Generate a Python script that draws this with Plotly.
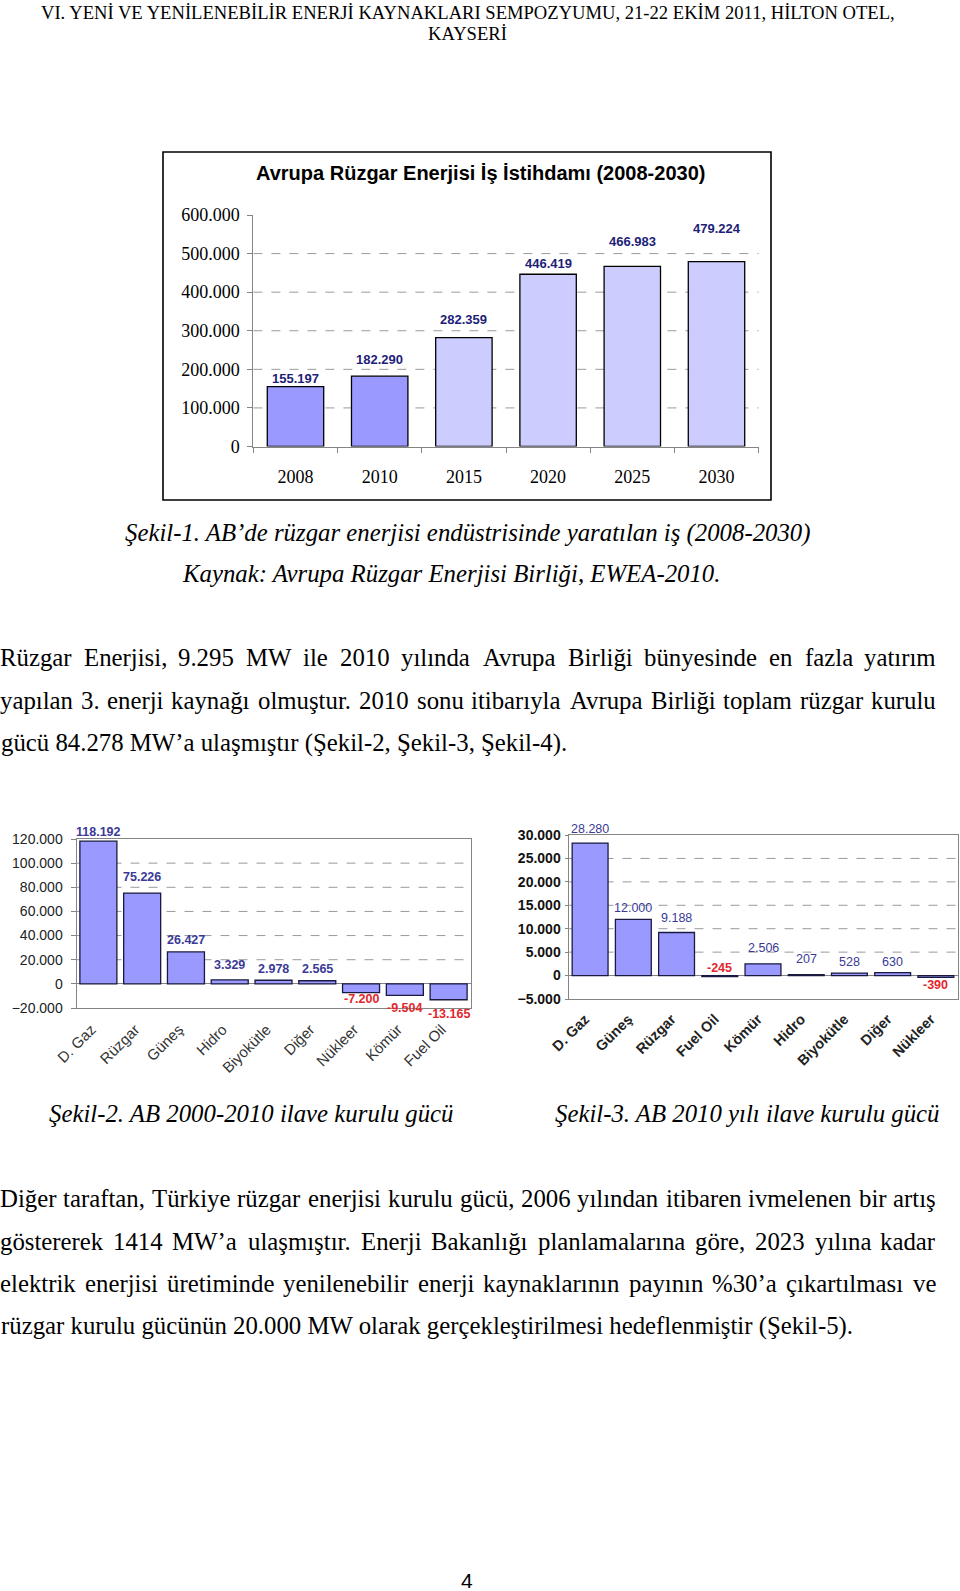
import plotly.graph_objects as go

# ------------------------------------------------------------------ data
years = ["2008", "2010", "2015", "2020", "2025", "2030"]
jobs = [155197, 182290, 282359, 446419, 466983, 479224]
ch1_yticks = [0, 100000, 200000, 300000, 400000, 500000, 600000]

sources2 = ["D. Gaz", "Rüzgar", "Güneş", "Hidro", "Biyokütle", "Diğer", "Nükleer", "Kömür", "Fuel Oil"]
capacity2 = [118192, 75226, 26427, 3329, 2978, 2565, -7200, -9504, -13165]
ch2_yticks = [-20000, 0, 20000, 40000, 60000, 80000, 100000, 120000]

sources3 = ["D. Gaz", "Güneş", "Rüzgar", "Fuel Oil", "Kömür", "Hidro", "Biyokütle", "Diğer", "Nükleer"]
capacity3 = [28280, 12000, 9188, -245, 2506, 207, 528, 630, -390]
ch3_yticks = [-5000, 0, 5000, 10000, 15000, 20000, 25000, 30000]

header_lines = ["VI. YENİ VE YENİLENEBİLİR ENERJİ KAYNAKLARI SEMPOZYUMU, 21-22 EKİM 2011, HİLTON OTEL,",
                "KAYSERİ"]
chart1_title = "Avrupa Rüzgar Enerjisi İş İstihdamı (2008-2030)"
caption1 = ["Şekil-1. AB’de rüzgar enerjisi endüstrisinde yaratılan iş (2008-2030)",
            "Kaynak: Avrupa Rüzgar Enerjisi Birliği, EWEA-2010."]
para1 = ["Rüzgar Enerjisi, 9.295 MW ile 2010 yılında Avrupa Birliği bünyesinde en fazla yatırım",
         "yapılan 3. enerji kaynağı olmuştur. 2010 sonu itibarıyla Avrupa Birliği toplam rüzgar kurulu",
         "gücü 84.278 MW’a ulaşmıştır (Şekil-2, Şekil-3, Şekil-4)."]
caption2 = "Şekil-2. AB 2000-2010 ilave kurulu gücü"
caption3 = "Şekil-3. AB 2010 yılı ilave kurulu gücü"
para2 = ["Diğer taraftan, Türkiye rüzgar enerjisi kurulu gücü, 2006 yılından itibaren ivmelenen bir artış",
         "göstererek 1414 MW’a ulaşmıştır. Enerji Bakanlığı planlamalarına göre, 2023 yılına kadar",
         "elektrik enerjisi üretiminde yenilenebilir enerji kaynaklarının payının %30’a çıkartılması ve",
         "rüzgar kurulu gücünün 20.000 MW olarak gerçekleştirilmesi hedeflenmiştir (Şekil-5)."]
page_no = "4"

# ------------------------------------------------------------------ styles
W, H = 960, 1591
SERIF = "Liberation Serif"
SANS = "Liberation Sans"
ch1_colors = ["#9999FF", "#9999FF", "#CCCCFF", "#CCCCFF", "#CCCCFF", "#CCCCFF"]
ch1_label_shift = [8, 17, 18, 11, 25, 33]
ch2_label_shift = [9, 16, 12, 15, 11, 12, -6, -13, -14]
ch3_label_shift = [14, 11, 15, 9, 16, 16, 11, 11, -8]
NAVY1 = "#1E1E78"
NAVY2 = "#3A3A96"
RED = "#E3262B"
GRID = "#9A9A9A"
AXIS = "#858585"


def fmt(v):
    return f"{v:,}".replace(",", ".")


def px(x):
    return x / W


def py(y):
    return 1 - y / H


# Times-Roman glyph widths (per 1000 em) for text justification
TW = {' ': 250, '.': 250, ',': 250, ':': 278, '’': 333, "'": 180, '(': 333, ')': 333, '-': 333, '%': 833,
      'a': 444, 'b': 500, 'c': 444, 'd': 500, 'e': 444, 'f': 333, 'g': 500, 'h': 500, 'i': 278, 'j': 278,
      'k': 500, 'l': 278, 'm': 778, 'n': 500, 'o': 500, 'p': 500, 'q': 500, 'r': 333, 's': 389, 't': 278,
      'u': 500, 'v': 500, 'w': 722, 'x': 500, 'y': 500, 'z': 444,
      'ü': 500, 'ç': 444, 'ğ': 500, 'ı': 278, 'ş': 389, 'ö': 500,
      'A': 722, 'B': 667, 'C': 667, 'D': 722, 'E': 611, 'F': 556, 'G': 722, 'H': 722, 'I': 333, 'J': 389,
      'K': 722, 'L': 611, 'M': 889, 'N': 722, 'O': 722, 'P': 556, 'R': 667, 'S': 556, 'T': 611, 'U': 722,
      'V': 722, 'W': 944, 'Y': 722, 'Z': 611, 'Ş': 556, 'İ': 333, 'Ü': 722}
for d in "0123456789":
    TW[d] = 500


def tw(s, size):
    return sum(TW.get(c, 500) for c in s) / 1000 * size


ann = []


def text(x, y, s, size, family=SERIF, color="black", xanchor="center", weight="normal"):
    ann.append(dict(x=px(x), y=py(y), xref="paper", yref="paper", text=s, showarrow=False,
                    xanchor=xanchor, yanchor="middle", align=xanchor if xanchor != "center" else "center",
                    borderpad=0,
                    font=dict(family=family, size=size, color=color, weight=weight)))


BODY = 24.8


def justified(line, y, x0=0, x1=936, size=BODY):
    words = line.split(" ")
    widths = [tw(w, size) for w in words]
    gap = (x1 - x0 - sum(widths)) / (len(words) - 1)
    x = x0
    for w, wd in zip(words, widths):
        text(x + wd / 2, y, w, size, xanchor="center")
        x += wd + gap


# ------------------------------------------------------------------ figure
fig = go.Figure()

fig.add_trace(go.Bar(x=years, y=jobs, xaxis="x", yaxis="y", width=0.67,
                     marker=dict(color=ch1_colors, line=dict(color="black", width=1.3)),
                     hoverinfo="skip", showlegend=False))
fig.add_trace(go.Bar(x=sources2, y=capacity2, xaxis="x2", yaxis="y2", width=0.845,
                     marker=dict(color="#9999FF", line=dict(color="#1A1A40", width=1.3)),
                     hoverinfo="skip", showlegend=False))
fig.add_trace(go.Bar(x=sources3, y=capacity3, xaxis="x3", yaxis="y3", width=0.83,
                     marker=dict(color="#9999FF", line=dict(color="#1A1A40", width=1.3)),
                     hoverinfo="skip", showlegend=False))

common_x = dict(type="category", showgrid=False, zeroline=False, fixedrange=True, automargin=False)

fig.update_layout(
    width=W, height=H, margin=dict(l=0, r=0, t=0, b=0, pad=0, autoexpand=False),
    paper_bgcolor="white", plot_bgcolor="white", separators=",.", showlegend=False,
    xaxis=dict(common_x, domain=[px(253.4), px(758.6)], anchor="y", range=[-0.5, 5.5],
               showline=True, linecolor=AXIS, linewidth=1, ticks="outside", tickson="boundaries",
               ticklen=5, tickcolor=AXIS, ticklabelstandoff=14,
               tickfont=dict(family=SERIF, size=18, color="black")),
    yaxis=dict(domain=[py(446.5), py(215)], anchor="x", range=[0, 600000], tickvals=ch1_yticks,
               tickformat=",d", showline=True, linecolor=AXIS, linewidth=1, ticks="outside", ticklen=5,
               tickcolor=AXIS, showgrid=False, zeroline=False, ticklabelstandoff=4, automargin=False,
               tickfont=dict(family=SERIF, size=18, color="black")),
    xaxis2=dict(common_x, domain=[px(76.5), px(470.5)], anchor="y2", range=[-0.5, 8.5],
                showline=True, mirror=True, linecolor=AXIS, linewidth=1, ticks="", tickangle=-45,
                ticklabelstandoff=6, ticklabelshift=-7,
                tickfont=dict(family=SANS, size=15, color="#333333")),
    yaxis2=dict(domain=[py(1008), py(839)], anchor="x2", range=[-20000, 120000], tickvals=ch2_yticks,
                tickformat=",d", showline=True, mirror=True, linecolor=AXIS, linewidth=1,
                ticks="outside", ticklen=5, tickcolor=AXIS, showgrid=False, automargin=False,
                zeroline=True, zerolinecolor=AXIS, zerolinewidth=1, ticklabelstandoff=5,
                tickfont=dict(family=SANS, size=14, color="#222222")),
    xaxis3=dict(common_x, domain=[px(568.5), px(957.5)], anchor="y3", range=[-0.5, 8.5],
                showline=True, mirror=True, linecolor=AXIS, linewidth=1, ticks="", tickangle=-45,
                ticklabelstandoff=5, ticklabelshift=-5,
                tickfont=dict(family=SANS, size=14.5, color="#222222", weight="bold")),
    yaxis3=dict(domain=[py(999), py(835)], anchor="x3", range=[-5000, 30000], tickvals=ch3_yticks,
                tickformat=",d", showline=True, mirror=True, linecolor=AXIS, linewidth=1,
                ticks="outside", ticklen=3, tickcolor=AXIS, showgrid=False, automargin=False,
                zeroline=True, zerolinecolor=AXIS, zerolinewidth=1, ticklabelstandoff=1,
                tickfont=dict(family=SANS, size=14, color="#111111", weight="bold")),
)

# dashed gridlines
shapes = []
for ax, ticks in (("", ch1_yticks), ("2", ch2_yticks), ("3", ch3_yticks)):
    for v in ticks:
        if v == 0 or v == ticks[0] or v == ticks[-1]:
            continue
        shapes.append(dict(type="line", xref=f"x{ax} domain", yref=f"y{ax}", x0=0, x1=1, y0=v, y1=v,
                           line=dict(color=GRID, width=1, dash="dash"), layer="below"))
# chart-1 outer frame
shapes.append(dict(type="rect", xref="paper", yref="paper", x0=px(163), x1=px(771), y0=py(500), y1=py(152),
                   line=dict(color="black", width=1.6), fillcolor="rgba(0,0,0,0)", layer="above"))
fig.update_layout(shapes=shapes)

# data labels (category index used as x)
for i, (v, s) in enumerate(zip(jobs, ch1_label_shift)):
    ann.append(dict(x=i, y=v, xref="x", yref="y", text=fmt(v), showarrow=False, yanchor="middle", yshift=s,
                    font=dict(family=SANS, size=13, color=NAVY1, weight="bold")))
for i, (v, s) in enumerate(zip(capacity2, ch2_label_shift)):
    ann.append(dict(x=i, y=v, xref="x2", yref="y2", text=fmt(v), showarrow=False, yanchor="middle", yshift=s,
                    font=dict(family=SANS, size=12.5, color=NAVY2 if v > 0 else RED, weight="bold")))
for i, (v, s) in enumerate(zip(capacity3, ch3_label_shift)):
    ann.append(dict(x=i, y=v, xref="x3", yref="y3", text=fmt(v), showarrow=False, yanchor="middle", yshift=s,
                    font=dict(family=SANS, size=12.5, color=NAVY2 if v > 0 else RED,
                              weight="normal" if v > 0 else "bold")))

# chart-1 title
text(480, 173, chart1_title, 20, family=SANS, weight="bold")

# document text
text(467.5, 13, header_lines[0], 18.6)
text(467.5, 33.5, header_lines[1], 18.6)
text(467.5, 533, "<i>" + caption1[0] + "</i>", BODY)
text(451, 573, "<i>" + caption1[1] + "</i>", BODY)
for line, y in zip(para1[:2], [657.6, 700.2]):
    justified(line, y)
text(0, 742.8, para1[2], BODY, xanchor="left")
text(251, 1113, "<i>" + caption2 + "</i>", BODY, xanchor="center")
text(941, 1113, "<i>" + caption3 + "</i>", BODY, xanchor="right")
for line, y in zip(para2[:3], [1198.5, 1241, 1283.7]):
    justified(line, y)
text(0, 1326.4, para2[3], BODY, xanchor="left")
text(467, 1580, page_no, 21, family=SANS)

fig.update_layout(annotations=ann)
fig.write_html("out.html")
